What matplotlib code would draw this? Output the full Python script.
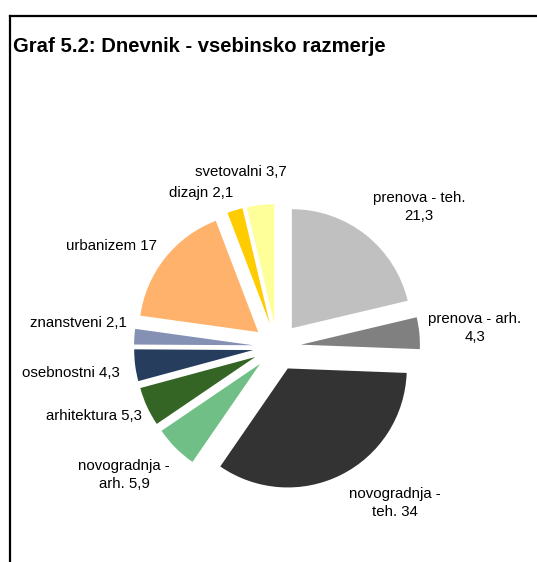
import matplotlib
matplotlib.use("Agg")
import matplotlib.pyplot as plt
from matplotlib.lines import Line2D

# ---- data ----
categories = ["prenova - teh.", "prenova - arh.", "novogradnja - teh.", "novogradnja - arh.",
              "arhitektura", "osebnostni", "znanstveni", "urbanizem", "dizajn", "svetovalni"]
values = [21.3, 4.3, 34, 5.9, 5.3, 4.3, 2.1, 17, 2.1, 3.7]
colors = ["#C0C0C0", "#808080", "#333333", "#70BF86", "#346524",
          "#263D5E", "#8490B4", "#FFB26B", "#FFCC00", "#FFFF99"]
title = "Graf 5.2: Dnevnik - vsebinsko razmerje"

# ---- layout (pixel coords, y measured from top) ----
W, H = 537, 562
center_px = (277, 347)
radius_px = 119
explode_px = 24
label_pos = [(419, 207), (475, 328), (395, 503), (124, 475), (94, 416),
             (71, 373), (78, 323), (112, 246), (201, 193), (241, 172)]
label_break = {0: "{name}\n{val}", 1: "{name}\n{val}",
               2: "novogradnja -\nteh. {val}", 3: "novogradnja -\narh. {val}"}

def fmt(v):
    s = ("%g" % v).replace(".", ",")
    return s

plt.rcParams["font.family"] = ["Liberation Sans", "DejaVu Sans"]
fig = plt.figure(figsize=(W / 100, H / 100), dpi=100)
ax = fig.add_axes([0, 0, 1, 1])
ax.set_xlim(0, W)
ax.set_ylim(0, H)
ax.set_aspect("equal")
ax.axis("off")

ax.pie(values, colors=colors, startangle=90, counterclock=False,
       radius=radius_px, center=(center_px[0], H - center_px[1]),
       explode=[explode_px] * len(values),
       wedgeprops=dict(linewidth=0), frame=False)
ax.set_xlim(0, W)
ax.set_ylim(0, H)
ax.axis("off")

for i, (name, v) in enumerate(zip(categories, values)):
    tmpl = label_break.get(i, "{name} {val}")
    txt = tmpl.format(name=name, val=fmt(v))
    x, y = label_pos[i]
    ax.text(x, H - y, txt, ha="center", va="center", fontsize=10.8,
            color="black", linespacing=1.35)

fig.text(13 / W, 1 - 47 / H, title, ha="left", va="center",
         fontsize=14.6, fontweight="bold", color="black")

# chart frame (left and top edges visible)
fig.add_artist(Line2D([10 / W, 10 / W], [0, 1 - 16 / H], color="black", lw=1.6,
                      transform=fig.transFigure))
fig.add_artist(Line2D([10 / W, 1], [1 - 16 / H, 1 - 16 / H], color="black", lw=1.6,
                      transform=fig.transFigure))

fig.savefig("out.png", dpi=100, facecolor="white")
